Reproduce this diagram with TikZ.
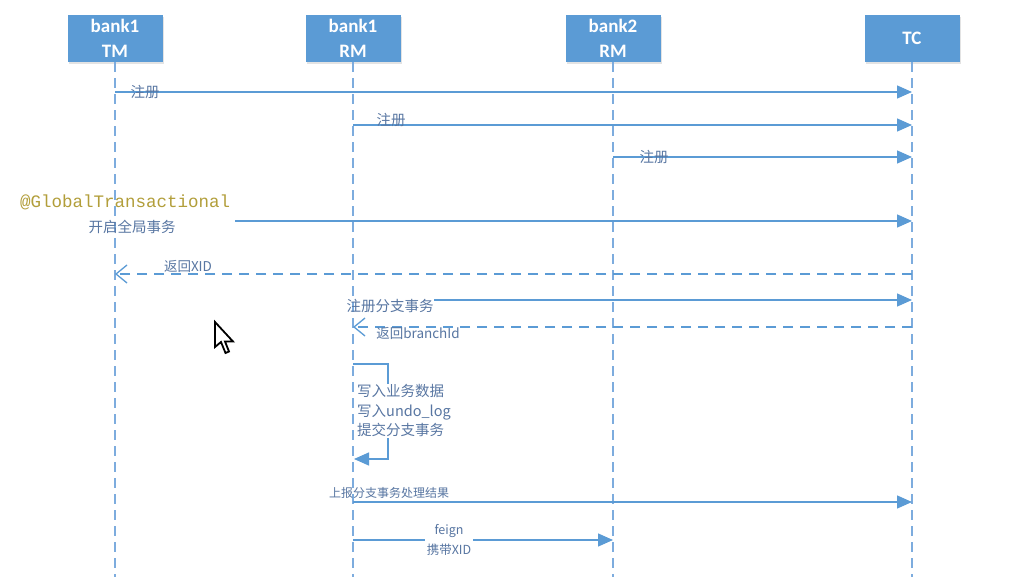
\documentclass[tikz,border=0pt]{standalone}
\usepackage{fontspec}
\setmainfont{Carlito}
\newfontfamily\cjk{Noto Sans CJK SC}
\newfontfamily\gmono{Liberation Mono}
\usetikzlibrary{arrows.meta,shadows}
\definecolor{boxblue}{RGB}{91,155,213}
\definecolor{lineblue}{RGB}{91,155,213}
\definecolor{lifeblue}{RGB}{125,172,222}
\definecolor{lbl}{RGB}{88,118,162}
\definecolor{annot}{RGB}{178,158,58}
\begin{document}
\begin{tikzpicture}[x=1pt,y=-1pt,
  actor/.style={fill=boxblue, minimum width=95pt, minimum height=47pt, text=white,
    font=\fontsize{19}{25}\selectfont\bfseries, align=center, inner sep=0pt,
    drop shadow={opacity=0.22, shadow xshift=1.5pt, shadow yshift=-2pt}},
  life/.style={draw=lifeblue, line width=1.8pt, dash pattern=on 10pt off 6pt},
  msg/.style={draw=lineblue, line width=1.3pt, -{Triangle[length=15pt,width=13pt]}},
  ret/.style={draw=lineblue, line width=1.3pt, dash pattern=on 10pt off 7pt,
    -{Straight Barb[length=11pt,width=18pt,line width=1.3pt]}},
  lab/.style={text=lbl, font=\cjk\fontsize{14.5}{17}\selectfont, inner sep=1pt},
  labw/.style={lab, fill=white, inner sep=2pt}
]
\useasboundingbox (0,0) rectangle (1020,577);
\fill[white] (0,0) rectangle (1020,577);

% participants
\node[actor] (tm)  at (115,38.5) {bank1\\TM};
\node[actor] (rm1) at (353,38.5) {bank1\\RM};
\node[actor] (rm2) at (613,38.5) {bank2\\RM};
\node[actor] (tc)  at (912,38.5) {TC};

% lifelines
\coordinate (tmend)  at (115,577);
\coordinate (rm1end) at (353,577);
\coordinate (rm2end) at (613,577);
\coordinate (tcend)  at (912,577);
\draw[life] (tm.south)  -- (tmend);
\draw[life] (rm1.south) -- (rm1end);
\draw[life] (rm2.south) -- (rm2end);
\draw[life] (tc.south)  -- (tcend);

% message coordinates
\coordinate (m1a) at (115,92);  \coordinate (m1b) at (912,92);
\coordinate (m2a) at (353,125); \coordinate (m2b) at (912,125);
\coordinate (m3a) at (613,157); \coordinate (m3b) at (912,157);
\coordinate (m4a) at (235,221); \coordinate (m4b) at (912,221);
\coordinate (m5a) at (912,274); \coordinate (m5b) at (115,274);
\coordinate (m6a) at (434,300); \coordinate (m6b) at (912,300);
\coordinate (m7a) at (912,327); \coordinate (m7b) at (353,327);
\coordinate (la) at (353,364); \coordinate (lb) at (388,364);
\coordinate (lc) at (388,459); \coordinate (ld) at (354,459);
\coordinate (m9a) at (353,502); \coordinate (m9b) at (912,502);
\coordinate (m10a) at (353,540); \coordinate (m10b) at (613,540);

% 1-3 register
\draw[msg] (m1a) -- (m1b);
\node[lab] (l1) at (145,92) {注册};
\draw[msg] (m2a) -- (m2b);
\node[lab] (l2) at (391,120) {注册};
\draw[msg] (m3a) -- (m3b);
\node[lab] (l3) at (654,157) {注册};

% 4 global transaction
\node[text=annot, font=\gmono\fontsize{17.5}{20}\selectfont, inner sep=0pt, anchor=west] (gt) at (20,202) {@GlobalTransactional};
\node[lab] (l4) at (132,227) {开启全局事务};
\draw[msg] (m4a) -- (m4b);

% 5 return XID
\draw[ret] (m5a) -- (m5b);
\node[lab, font=\cjk\fontsize{13.5}{16}\selectfont] (l5) at (188,266) {返回XID};

% 6 register branch
\node[lab] (l6) at (390,306) {注册分支事务};
\draw[msg] (m6a) -- (m6b);

% 7 return branchId
\draw[ret] (m7a) -- (m7b);
\node[lab, font=\cjk\fontsize{13.5}{16}\selectfont] (l7) at (418,333) {返回branchId};

% 8 self loop
\draw[msg] (la) -- (lb) -- (lc) -- (ld);
\node[labw, align=left, anchor=west, font=\cjk\fontsize{14.5}{19.5}\selectfont, inner sep=1pt] (l8) at (356,411) {写入业务数据\\写入undo\_log\\提交分支事务};

% 9 report
\draw[msg] (m9a) -- (m9b);
\node[lab, font=\cjk\fontsize{12}{15}\selectfont] (l9) at (389,493) {上报分支事务处理结果};

% 10 feign
\draw[msg] (m10a) -- (m10b);
\node[labw, align=center, font=\cjk\fontsize{12.5}{20}\selectfont] (l10) at (449,540) {feign\\携带XID};

% mouse cursor
\filldraw[fill=white, draw=black, line width=1.8pt, line join=miter]
  (215,322) -- ++(0,25) -- ++(6,-5) -- ++(4.5,11) -- ++(3.5,-1.5) -- ++(-4,-10) -- ++(8,0) -- cycle;
\end{tikzpicture}
\end{document}
